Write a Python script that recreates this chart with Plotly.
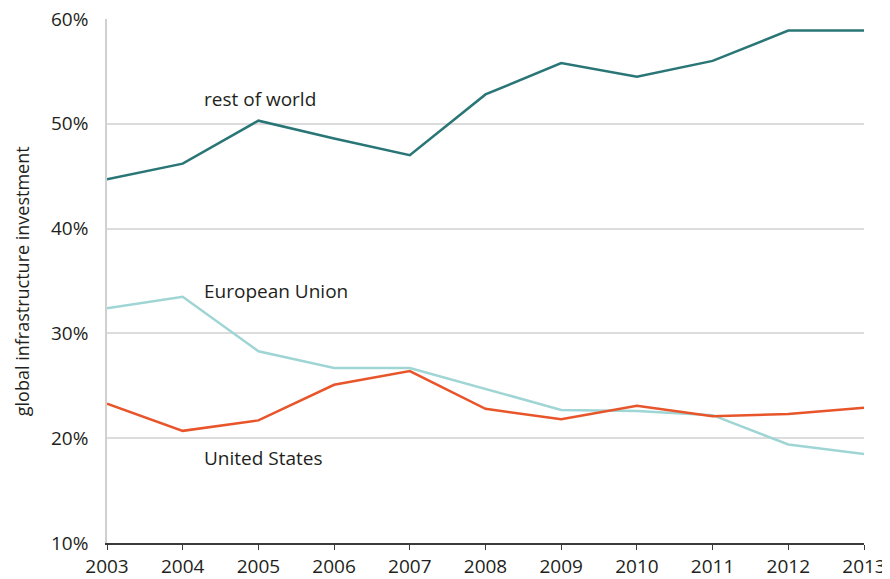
import plotly.graph_objects as go

years = list(range(2003, 2014))
rest_of_world = [44.7, 46.2, 50.3, 48.6, 47.0, 52.8, 55.8, 54.5, 56.0, 58.9, 58.9]
european_union = [32.4, 33.5, 28.3, 26.7, 26.7, 24.7, 22.7, 22.6, 22.2, 19.4, 18.5]
united_states = [23.3, 20.7, 21.7, 25.1, 26.4, 22.8, 21.8, 23.1, 22.1, 22.3, 22.9]

y_ticks = [10, 20, 30, 40, 50, 60]
y_labels = [f"{v}%" for v in y_ticks]

fig = go.Figure()

fig.add_trace(go.Scatter(x=years, y=european_union, mode='lines',
                         line=dict(color='#9fd5d4', width=2.5), name='European Union'))
fig.add_trace(go.Scatter(x=years, y=united_states, mode='lines',
                         line=dict(color='#e8552b', width=2.5), name='United States'))
fig.add_trace(go.Scatter(x=years, y=rest_of_world, mode='lines',
                         line=dict(color='#2a7677', width=2.5), name='rest of world'))

# labels next to the lines
labels = [("rest of world", 2004.25, 52.4),
          ("European Union", 2004.25, 34.0),
          ("United States", 2004.25, 18.1)]
for txt, lx, ly in labels:
    fig.add_annotation(x=lx, y=ly, text=txt, showarrow=False, xanchor='left',
                       font=dict(size=19, color='#231f20'))

# y axis title as a rotated annotation so it can sit further left
fig.add_annotation(x=-0.112, y=0.5, xref='paper', yref='paper', textangle=-90,
                   xanchor='center', yanchor='middle',
                   text='global infrastructure investment', showarrow=False,
                   font=dict(size=18, color='#231f20'))

# the page has an 8px body margin, so the figure is a bit smaller than the window
fig.update_layout(
    width=882, height=571,
    margin=dict(l=99, r=26, t=11, b=36),
    plot_bgcolor='white', paper_bgcolor='white',
    showlegend=False,
    font=dict(family='Open Sans, sans-serif', color='#231f20'),
    xaxis=dict(range=[2003, 2013], tickvals=years, ticktext=[str(y) for y in years],
               showgrid=False, showline=True, linecolor='#3a3a3a', linewidth=1.5,
               ticks='outside', ticklen=5, tickcolor='#3a3a3a', tickfont=dict(size=19),
               ticklabeloverflow='allow', automargin=False),
    yaxis=dict(range=[10, 60], tickvals=y_ticks, ticktext=y_labels,
               showgrid=True, gridcolor='#dcdcdc', gridwidth=1.5,
               showline=True, linecolor='#d0d0d0', linewidth=1.5,
               zeroline=False, tickfont=dict(size=19), ticks='', ticklabelstandoff=13,
               ticklabeloverflow='allow', automargin=False),
)

fig.write_html("out.html")
